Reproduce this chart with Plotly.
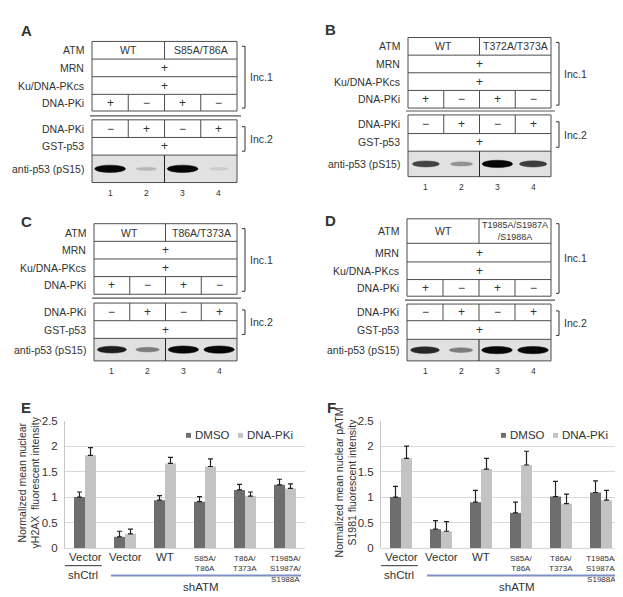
import plotly.graph_objects as go

# ---- data ----
panel_letters = ["A", "B", "C", "D"]
atm_mutant = ["S85A/T86A", "T372A/T373A", "T86A/T373A", "T1985A/S1987A<br>/S1988A"]
lane_numbers = ["1", "2", "3", "4"]
pki_inc1 = ["+", "\u2212", "+", "\u2212"]
pki_inc2 = ["\u2212", "+", "\u2212", "+"]
band_A = [1.0, 0.18, 1.0, 0.08]
band_B = [0.72, 0.35, 1.0, 0.75]
band_C = [0.9, 0.45, 1.0, 1.0]
band_D = [0.85, 0.45, 1.0, 1.0]
bands = [band_A, band_B, band_C, band_D]

groups = ["Vector", "Vector", "WT", "S85A/<br>T86A", "T86A/<br>T373A", "T1985A/<br>S1987A/<br>S1988A"]
e_dmso = [1.00, 0.22, 0.94, 0.91, 1.14, 1.24]
e_dmso_err = [0.10, 0.11, 0.09, 0.10, 0.11, 0.11]
e_pki = [1.82, 0.28, 1.66, 1.60, 1.02, 1.17]
e_pki_err = [0.15, 0.09, 0.12, 0.15, 0.08, 0.09]
f_dmso = [1.00, 0.37, 0.90, 0.69, 1.01, 1.09]
f_dmso_err = [0.21, 0.17, 0.23, 0.21, 0.30, 0.23]
f_pki = [1.76, 0.33, 1.55, 1.63, 0.87, 0.94]
f_pki_err = [0.24, 0.19, 0.21, 0.27, 0.19, 0.19]

W, H = 623, 597
FONT = "Liberation Sans, Arial, sans-serif"
INK = "#333333"
DMSO_COL = "#6e6e6e"
PKI_COL = "#c3c3c3"


def px(x):
    return x / W


def py(y):
    return 1 - y / H


shapes = []
annotations = []


def seg(x0, y0, x1, y1, color="#4d4d4d", width=1):
    shapes.append(dict(type="line", xref="paper", yref="paper", x0=px(x0), y0=py(y0),
                       x1=px(x1), y1=py(y1), line=dict(color=color, width=width)))


def box(x0, y0, x1, y1, fill="rgba(0,0,0,0)", color="#4d4d4d", width=1, kind="rect"):
    shapes.append(dict(type=kind, xref="paper", yref="paper", x0=px(x0), y0=py(y0),
                       x1=px(x1), y1=py(y1), fillcolor=fill,
                       line=dict(color=color, width=width)))


def text(x, y, s, size=10.5, xanchor="center", yanchor="middle", bold=False, angle=0):
    if bold:
        s = "<b>" + s + "</b>"
    annotations.append(dict(x=px(x), y=py(y), xref="paper", yref="paper", text=s,
                            showarrow=False, xanchor=xanchor, yanchor=yanchor,
                            textangle=angle,
                            font=dict(family=FONT, size=size, color=INK)))


# geometry of the four blot panels (pixels)
geo = [
    dict(letter=(18, 17), left=84, right=229, rows=[28, 46, 64, 82, 99], sep=104,
         inc2=[108, 126, 144], blot=172, num=183, atm_size=10.5),
    dict(letter=(322, 16), left=400, right=543, rows=[24, 42, 60, 78, 96], sep=99,
         inc2=[103, 122, 140], blot=166, num=177, atm_size=10.5),
    dict(letter=(18, 212), left=86, right=229, rows=[214, 232, 250, 268, 286], sep=290,
         inc2=[295, 313, 331], blot=354, num=364, atm_size=10.5),
    dict(letter=(322, 211), left=399, right=543, rows=[209, 234, 253, 271, 288], sep=292,
         inc2=[296, 313, 332], blot=354, num=364, atm_size=9),
]

for p, g in enumerate(geo):
    L, R = g["left"], g["right"]
    lw = (R - L) / 4
    cx = [L + lw * (i + 0.5) for i in range(4)]
    mid = (L + R) / 2
    r = g["rows"]
    i2 = g["inc2"]
    rc = [(r[k] + r[k + 1]) / 2 for k in range(4)]
    c2 = [(i2[0] + i2[1]) / 2, (i2[1] + i2[2]) / 2, (i2[2] + g["blot"]) / 2]

    text(g["letter"][0], g["letter"][1], panel_letters[p], size=15, bold=True)

    # incubation 1 table
    box(L, r[0], R, r[4])
    for y in r[1:4]:
        seg(L, y, R, y)
    seg(mid, r[0], mid, r[1])
    for k in range(1, 4):
        seg(L + lw * k, r[3], L + lw * k, r[4])
    for lab, y in zip(["ATM", "MRN", "Ku/DNA-PKcs", "DNA-PKi"], rc):
        text(L - 6, y, lab, xanchor="right")
    text((L + mid) / 2, rc[0], "WT")
    text((mid + R) / 2, rc[0], atm_mutant[p], size=g["atm_size"])
    text(mid, rc[1], "+", size=12)
    text(mid, rc[2], "+", size=12)
    for i in range(4):
        text(cx[i], rc[3], pki_inc1[i], size=12)

    seg(L - 2, g["sep"], R + 4, g["sep"], color="#555555", width=1.2)

    # incubation 2 table + blot
    box(L, i2[2], R, g["blot"], fill="#e1e1e1", color="rgba(0,0,0,0)", width=0)
    yb = c2[2]
    for i in range(4):
        I = bands[p][i]
        bw = lw * (0.5 + 0.35 * I)
        bh = 2.5 + 5 * I
        lvl = int(222 - 215 * I)
        col = "rgb(%d,%d,%d)" % (lvl, lvl, lvl)
        box(cx[i] - bw / 2, yb - bh / 2, cx[i] + bw / 2, yb + bh / 2,
            fill=col, color=col, width=0.5, kind="circle")
    box(L, i2[0], R, g["blot"])
    seg(L, i2[1], R, i2[1])
    seg(L, i2[2], R, i2[2])
    for k in range(1, 4):
        seg(L + lw * k, i2[0], L + lw * k, i2[1])
    seg(mid, i2[2], mid, g["blot"], color="#222222")
    for lab, y in zip(["DNA-PKi", "GST-p53", "anti-p53 (pS15)"], c2):
        text(L - 6, y, lab, xanchor="right")
    for i in range(4):
        text(cx[i], c2[0], pki_inc2[i], size=12)
        text(cx[i], g["num"], lane_numbers[i], size=8.5)
    text(mid, c2[1], "+", size=12)

    # brackets
    bx = R + 8
    for y0, y1, lab in [(r[0] + 5, r[4] - 3, "Inc.1"), (i2[0] + 7, i2[2] - 4, "Inc.2")]:
        seg(bx, y0, bx, y1, color=INK)
        seg(bx - 3, y0, bx, y0, color=INK)
        seg(bx - 3, y1, bx, y1, color=INK)
        text(bx + 3, (y0 + y1) / 2, lab, xanchor="left")

# ---- bar charts E and F ----
xpos = list(range(len(groups)))
fig = go.Figure()


def add_bars(dmso, dmso_err, pki, pki_err, xa, ya):
    for vals, errs, col in [(dmso, dmso_err, DMSO_COL), (pki, pki_err, PKI_COL)]:
        fig.add_trace(go.Bar(
            x=xpos, y=vals, marker=dict(color=col, line=dict(width=0)),
            error_y=dict(type="data", array=errs, arrayminus=[0] * len(errs),
                         symmetric=False, color="#222222", thickness=1.2, width=2.5),
            xaxis=xa, yaxis=ya, showlegend=False))


add_bars(e_dmso, e_dmso_err, e_pki, e_pki_err, "x", "y")
add_bars(f_dmso, f_dmso_err, f_pki, f_pki_err, "x2", "y2")


def axis_text(xref, x, y, s, size, yanchor="middle"):
    annotations.append(dict(x=x, y=py(y), xref=xref, yref="paper", text=s,
                            showarrow=False, xanchor="center", yanchor=yanchor,
                            font=dict(family=FONT, size=size, color=INK)))


for xref, letter, letter_x, title_x, ytitle, legx in [
        ("x", "E", 18, 21, "Normalized mean nuclear<br>\u03b3H2AX  fluorescent intensity", 178),
        ("x2", "F", 323, 338, "Normalized mean nuclear pATM<br>S1981 fluorescent intensity", 493)]:
    text(letter_x, 402, letter, size=15, bold=True)
    text(title_x, 478, ytitle, size=10.5, angle=-90)
    for i, lab in enumerate(groups):
        if "<br>" in lab:
            axis_text(xref, i, 549, lab, 8, yanchor="top")
        else:
            axis_text(xref, i, 554, lab, 11.5)
    shapes.append(dict(type="line", xref=xref, yref="paper", x0=-0.55, x1=0.42,
                       y0=py(563), y1=py(563), line=dict(color="#333333", width=1)))
    shapes.append(dict(type="line", xref=xref, yref="paper", x0=0.65, x1=5.4,
                       y0=py(573), y1=py(573), line=dict(color="#7f8fc4", width=2)))
    axis_text(xref, -0.05, 572, "shCtrl", 11.5)
    axis_text(xref, 2.9, 585, "shATM", 11.5)
    # legend
    box(legx, 427.5, legx + 5, 432.5, fill=DMSO_COL, color=DMSO_COL, width=0)
    text(legx + 7, 430, "DMSO", size=11.5, xanchor="left")
    box(legx + 52, 427.5, legx + 57, 432.5, fill=PKI_COL, color=PKI_COL, width=0)
    text(legx + 59, 430, "DNA-PKi", size=11.5, xanchor="left")

yax = dict(range=[0, 2.5], dtick=0.5, showgrid=True, gridcolor="#d9d9d9", gridwidth=1,
           zeroline=False, showline=True, linecolor="#c8c8c8", ticks="",
           ticklabelstandoff=4, tickfont=dict(family=FONT, size=11.5, color=INK),
           domain=[py(545), py(415)])
xax = dict(range=[-0.5, 5.5], showgrid=False, zeroline=False, showline=True,
           linecolor="#d9d9d9", showticklabels=False, ticks="")

fig.update_layout(
    width=W, height=H,
    margin=dict(l=0, r=0, t=0, b=0),
    paper_bgcolor="white", plot_bgcolor="white",
    barmode="group", bargap=0.45, bargroupgap=0,
    xaxis=dict(xax, domain=[px(57), px(297)], anchor="y"),
    yaxis=dict(yax, anchor="x"),
    xaxis2=dict(xax, domain=[px(373), px(613)], anchor="y2"),
    yaxis2=dict(yax, anchor="x2"),
    shapes=shapes,
    annotations=annotations,
    font=dict(family=FONT, color=INK),
)

fig.write_html("out.html")
